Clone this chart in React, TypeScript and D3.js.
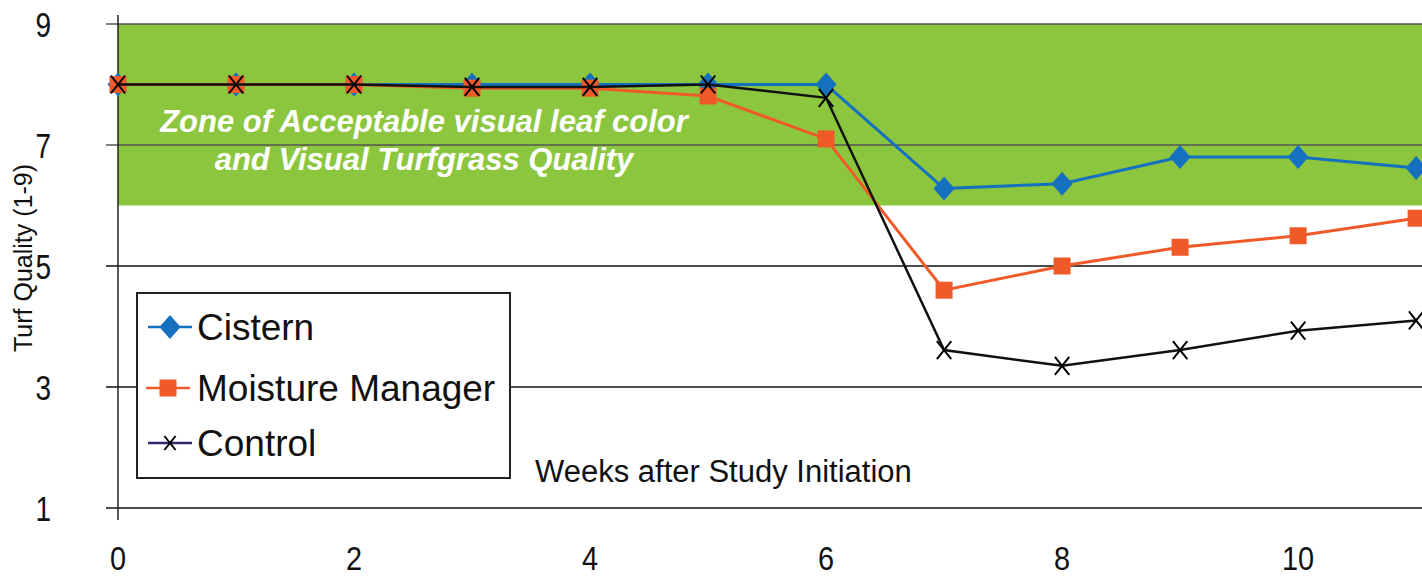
import React from "react";
import * as d3 from "d3";

const weeks = [0, 1, 2, 3, 4, 5, 6, 7, 8, 9, 10, 11];
const cistern = [8, 8, 8, 8, 8, 8, 8, 6.28, 6.36, 6.8, 6.8, 6.62];
const moisture = [8, 8, 8, 7.94, 7.94, 7.81, 7.1, 4.6, 5.0, 5.31, 5.5, 5.79];
const control = [8, 8, 8, 7.96, 7.96, 8.0, 7.78, 3.61, 3.35, 3.61, 3.93, 4.1];
const yTicks = [1, 3, 5, 7, 9];
const xTicks = [0, 2, 4, 6, 8, 10];
const zone = [6, 9];
const seriesNames = ["Cistern", "Moisture Manager", "Control"];

const W = 1422, H = 577;
const FONT = "'Liberation Sans', Arial, sans-serif";
const BLUE = "#1670C0";
const ORANGE = "#F05A28";
const GREEN = "#8CC63F";

export default function App() {
  const x = d3.scaleLinear().domain([0, 11.05]).range([118, 1422]);
  const y = d3.scaleLinear().domain([1, 9]).range([508, 24]);
  const line = d3.line<number>().x((_, i) => x(weeks[i])).y((d) => y(d));

  const diamond = (cx: number, cy: number, s = 13, key?: any) => (
    <path key={key} d={`M${cx},${cy - s}L${cx + s * 0.88},${cy}L${cx},${cy + s}L${cx - s * 0.88},${cy}Z`} fill={BLUE} />
  );
  const square = (cx: number, cy: number, s = 9, key?: any) => (
    <rect key={key} x={cx - s} y={cy - s} width={2 * s} height={2 * s} fill={ORANGE} />
  );
  const cross = (cx: number, cy: number, s = 9, key?: any, color = "#000") => (
    <path key={key} d={`M${cx - s * 0.8},${cy - s}L${cx + s * 0.8},${cy + s}M${cx - s * 0.8},${cy + s}L${cx + s * 0.8},${cy - s}`} stroke={color} strokeWidth={2} />
  );

  return (
    <svg width={W} height={H} style={{ position: "absolute", left: 0, top: 0, background: "#fff" }}>
      <defs>
        <clipPath id="plot">
          <rect x={100} y={0} width={W - 100} height={H} />
        </clipPath>
      </defs>
      {/* Acceptable zone */}
      <rect x={x(0)} y={y(zone[1])} width={W - x(0)} height={y(zone[0]) - y(zone[1])} fill={GREEN} />
      {/* gridlines */}
      {yTicks.map((t) => (
        <line key={t} x1={106} x2={W} y1={y(t)} y2={y(t)} stroke={t >= 6 ? "#555" : "#111"} strokeWidth={1.3} />
      ))}
      {/* axes */}
      <line x1={x(0)} x2={x(0)} y1={15} y2={520} stroke="#222" strokeWidth={1.5} />
      {yTicks.map((t) => (
        <text key={t} transform={`translate(51,${y(t)}) scale(0.8,1)`} dy="0.36em" textAnchor="end" fontFamily={FONT} fontSize={35} fill="#111">{t}</text>
      ))}
      {xTicks.map((t) => (
        <text key={t} transform={`translate(${x(t)},570) scale(0.85,1)`} textAnchor="middle" fontFamily={FONT} fontSize={34} fill="#111">{t}</text>
      ))}
      <text transform="translate(32,258) rotate(-90)" textAnchor="middle" fontFamily={FONT} fontSize={25} fill="#111">Turf Quality (1-9)</text>
      <text x={535} y={482} fontFamily={FONT} fontSize={31} fill="#111">Weeks after Study Initiation</text>
      {/* zone label */}
      <text x={424} y={132} textAnchor="middle" fontFamily={FONT} fontSize={31} fontWeight="bold" fontStyle="italic" fill="#fff">Zone of Acceptable visual leaf color</text>
      <text x={424} y={170} textAnchor="middle" fontFamily={FONT} fontSize={31} fontWeight="bold" fontStyle="italic" fill="#fff">and Visual Turfgrass Quality</text>
      {/* series */}
      <g clipPath="url(#plot)">
        <path d={line(cistern) || ""} fill="none" stroke={BLUE} strokeWidth={3} />
        {cistern.map((v, i) => diamond(x(weeks[i]), y(v), 12, "c" + i))}
        <path d={line(moisture) || ""} fill="none" stroke={ORANGE} strokeWidth={3} />
        {moisture.map((v, i) => square(x(weeks[i]), y(v), 8.5, "m" + i))}
        <path d={line(control) || ""} fill="none" stroke="#111" strokeWidth={2.5} />
        {control.map((v, i) => cross(x(weeks[i]), y(v), 9, "k" + i))}
      </g>
      {/* legend */}
      <rect x={137} y={293} width={373} height={185} fill="#fff" stroke="#222" strokeWidth={2} />
      <line x1={148} x2={192} y1={327} y2={327} stroke={BLUE} strokeWidth={2.5} />
      {diamond(170, 327, 12)}
      <text x={197} y={327} dy="0.36em" fontFamily={FONT} fontSize={37} fill="#111">{seriesNames[0]}</text>
      <line x1={146} x2={190} y1={388} y2={388} stroke={ORANGE} strokeWidth={2.5} />
      {square(168, 388, 8.5)}
      <text x={197} y={388} dy="0.36em" fontFamily={FONT} fontSize={37} fill="#111">{seriesNames[1]}</text>
      <line x1={148} x2={192} y1={443} y2={443} stroke="#2E2A6E" strokeWidth={2.5} />
      {cross(170, 443, 7)}
      <text x={197} y={443} dy="0.36em" fontFamily={FONT} fontSize={37} fill="#111">{seriesNames[2]}</text>
    </svg>
  );
}
